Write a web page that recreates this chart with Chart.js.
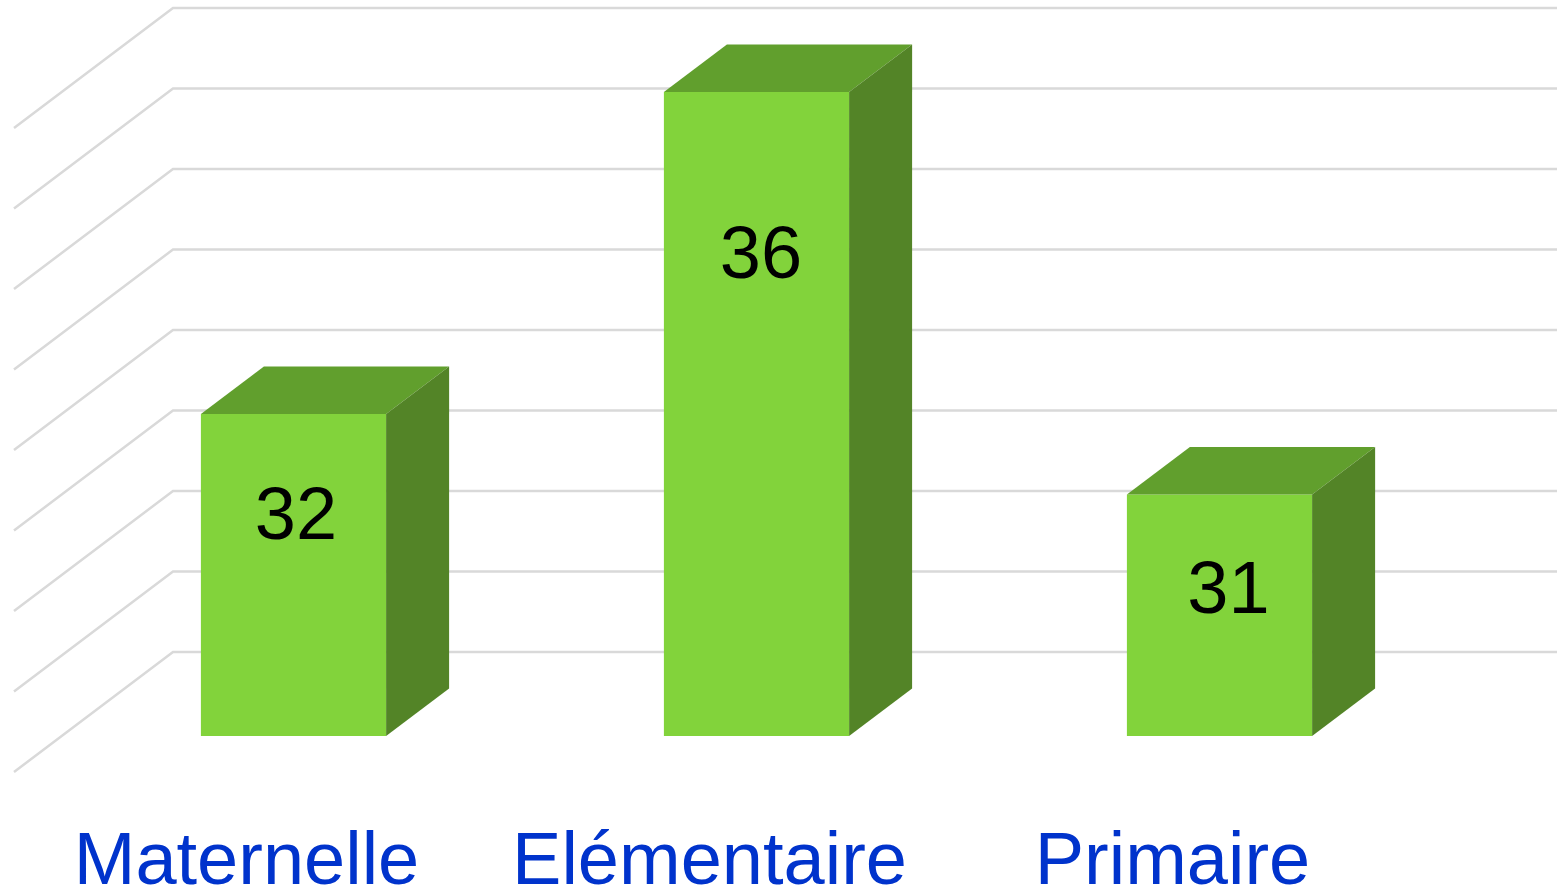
<!DOCTYPE html>
<html lang="fr">
<head>
<meta charset="utf-8">
<title>Effectifs</title>
<script src="https://cdn.jsdelivr.net/npm/chart.js@4"></script>
<style>
  html, body { margin: 0; padding: 0; background: #fff; overflow: hidden; }
  canvas { display: block; }
</style>
</head>
<body>
<canvas id="chart" width="1557" height="896"></canvas>
<script>
// values
const categories = ['Maternelle', 'Elémentaire', 'Primaire'];
const values = [32, 36, 31];
const axisMin = 28;
const axisMax = 36;

const frontColor = '#82d33b';
const topColor = '#619f2d';
const sideColor = '#538427';
const gridColor = '#d9d9d9';

// fake 3d: draws the wall lines behind the bars, the top/side faces and the labels
const box3d = {
    id: 'box3d',
    beforeDatasetsDraw(chart, args, opts) {
        const ctx = chart.ctx;
        const y = chart.scales.y;
        ctx.save();
        ctx.strokeStyle = gridColor;
        ctx.lineWidth = 2.5;
        y.ticks.forEach(tick => {
            const py = y.getPixelForValue(tick.value) + opts.wallShift;
            ctx.beginPath();
            ctx.moveTo(opts.wallLeft - opts.wallDx, py + opts.wallDy);
            ctx.lineTo(opts.wallLeft, py);
            ctx.lineTo(chart.width, py);
            ctx.stroke();
        });
        ctx.restore();
    },
    afterDatasetsDraw(chart, args, opts) {
        const ctx = chart.ctx;
        const bars = chart.getDatasetMeta(0).data;
        // bar.base points at value 0, which is far under the axis here
        const floor = chart.scales.y.getPixelForValue(axisMin);
        ctx.save();
        bars.forEach((bar, i) => {
            const right = bar.x + bar.width / 2;
            const left = bar.x - bar.width / 2;
            // top face
            ctx.fillStyle = topColor;
            ctx.beginPath();
            ctx.moveTo(left, bar.y);
            ctx.lineTo(left + opts.dx, bar.y - opts.dy);
            ctx.lineTo(right + opts.dx, bar.y - opts.dy);
            ctx.lineTo(right, bar.y);
            ctx.closePath();
            ctx.fill();
            // side face
            ctx.fillStyle = sideColor;
            ctx.beginPath();
            ctx.moveTo(right, bar.y);
            ctx.lineTo(right + opts.dx, bar.y - opts.dy);
            ctx.lineTo(right + opts.dx, floor - opts.dy);
            ctx.lineTo(right, floor);
            ctx.closePath();
            ctx.fill();
            // value label
            ctx.fillStyle = '#000';
            ctx.font = '74px "Liberation Sans"';
            ctx.textAlign = 'center';
            ctx.textBaseline = 'middle';
            ctx.fillText(values[i], bar.x + opts.labelShift[i].x, bar.y + opts.labelShift[i].y);
        });
        ctx.restore();
    }
};

new Chart(document.getElementById('chart').getContext('2d'), {
    type: 'bar',
    data: {
        labels: categories,
        datasets: [{
            data: values,
            backgroundColor: frontColor,
            borderWidth: 0,
            barPercentage: 0.4,
            categoryPercentage: 1
        }]
    },
    options: {
        responsive: false,
        animation: false,
        layout: { padding: { left: 62, right: 106, top: 92, bottom: 0 } },
        plugins: {
            legend: { display: false },
            title: { display: false },
            tooltip: { enabled: false },
            box3d: {
                dx: 63,
                dy: 47.5,
                wallLeft: 173,
                wallShift: -84,
                wallDx: 159,
                wallDy: 120,
                labelShift: [{ x: 2.5, y: 105 }, { x: 4.5, y: 166 }, { x: 9, y: 98 }]
            }
        },
        scales: {
            x: {
                grid: { display: false },
                border: { display: false },
                afterFit(scale) { scale.height = 160; },
                ticks: {
                    color: '#0033cc',
                    font: { family: '"Liberation Sans"', size: 74 },
                    padding: 75,
                    labelOffset: -47,
                    autoSkip: false,
                    maxRotation: 0
                }
            },
            y: {
                display: false,
                min: axisMin,
                max: axisMax,
                ticks: { stepSize: 1 }
            }
        }
    },
    plugins: [box3d]
});
</script>
</body>
</html>
